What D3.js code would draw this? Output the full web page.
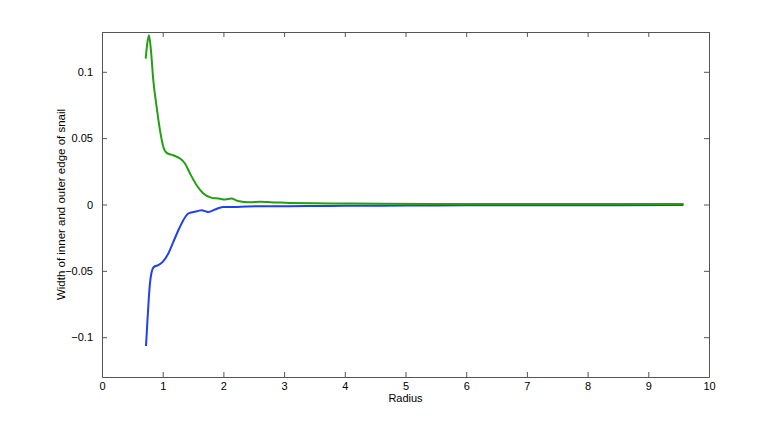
<!DOCTYPE html>
<html>
<head>
<meta charset="utf-8">
<script src="https://cdn.jsdelivr.net/npm/d3@7"></script>
<style>
    body { margin: 0; background: #fff; }
    text { font-family: "Liberation Sans", Arial, sans-serif; font-size: 11px; fill: #000; }
</style>
</head>
<body>
<script>
// outer edge (green)
var outerR = [0.72, 0.745, 0.774, 0.806, 0.845, 0.90, 0.955, 1.01, 1.065, 1.17, 1.285, 1.367, 1.45, 1.56, 1.67, 1.81, 1.92, 2.03, 2.13, 2.24, 2.43, 2.60, 2.88, 3.1, 3.5, 4.0, 4.6, 5.5, 6.5, 7.5, 8.5, 9.58];
var outerW = [0.110, 0.121, 0.1276, 0.1163, 0.0937, 0.0736, 0.056, 0.0434, 0.0389, 0.0371, 0.0347, 0.0309, 0.0234, 0.0145, 0.0083, 0.005, 0.0045, 0.0038, 0.0045, 0.0027, 0.0017, 0.002, 0.0015, 0.0012, 0.0009, 0.0007, 0.0005, 0.0004, 0.0004, 0.0003, 0.0003, 0.0003];

// inner edge (blue)
var innerR = [0.725, 0.746, 0.769, 0.79, 0.818, 0.856, 0.928, 1.0, 1.093, 1.175, 1.258, 1.34, 1.422, 1.505, 1.587, 1.64, 1.75, 1.86, 1.99, 2.22, 2.55, 3.0, 3.5, 4.0, 4.6, 5.5, 6.5, 7.5, 8.5, 9.58];
var innerW = [-0.1066, -0.0897, -0.0721, -0.0595, -0.0508, -0.047, -0.0457, -0.0432, -0.0369, -0.0282, -0.0194, -0.0118, -0.0068, -0.0056, -0.0048, -0.0043, -0.0056, -0.0038, -0.0018, -0.0018, -0.0013, -0.0013, -0.0011, -0.001, -0.0009, -0.0007, -0.0006, -0.0005, -0.0005, -0.0004];

var xTicks = [0, 1, 2, 3, 4, 5, 6, 7, 8, 9, 10];
var yTicks = [-0.1, -0.05, 0, 0.05, 0.1];

var margin = { top: 32, right: 75, bottom: 48, left: 102 },
    width = 784 - margin.left - margin.right,
    height = 425 - margin.top - margin.bottom;

var x = d3.scaleLinear().domain([0, 10]).range([0, width]);
var y = d3.scaleLinear().domain([-0.13, 0.13]).range([height, 0]);

var svg = d3.select("body").append("svg")
    .attr("width", 784)
    .attr("height", 425)
    .append("g")
    .attr("transform", "translate(" + margin.left + "," + margin.top + ")");

var fmt = function (d) { return d < 0 ? "\u2212" + Math.abs(d) : "" + d; };

// axes, ticks pointing inward like matlab
var xAxis = d3.axisBottom(x).tickValues(xTicks).tickSizeInner(-5).tickSizeOuter(0).tickPadding(5).tickFormat(fmt);
var xTop = d3.axisTop(x).tickValues(xTicks).tickSizeInner(-5).tickSizeOuter(0).tickFormat("");
var yAxis = d3.axisLeft(y).tickValues(yTicks).tickSizeInner(-5).tickSizeOuter(0).tickPadding(9).tickFormat(fmt);
var yRight = d3.axisRight(y).tickValues(yTicks).tickSizeInner(-5).tickSizeOuter(0).tickFormat("");

svg.append("g").attr("transform", "translate(0," + height + ")").call(xAxis);
svg.append("g").call(xTop);
svg.append("g").call(yAxis);
svg.append("g").attr("transform", "translate(" + width + ",0)").call(yRight);

svg.selectAll(".domain").attr("stroke", "#555");
svg.selectAll(".tick line").attr("stroke", "#555");
svg.selectAll(".tick text").style("font-size", "11px");

var line = d3.line()
    .x(function (d) { return x(d[0]); })
    .y(function (d) { return y(d[1]); })
    .curve(d3.curveMonotoneX);

svg.append("path")
    .datum(d3.zip(innerR, innerW))
    .attr("fill", "none")
    .attr("stroke", "#2040f0")
    .attr("stroke-width", 2)
    .attr("d", line);

svg.append("path")
    .datum(d3.zip(outerR, outerW))
    .attr("fill", "none")
    .attr("stroke", "#22a010")
    .attr("stroke-width", 2)
    .attr("d", line);

svg.append("text")
    .attr("x", width / 2)
    .attr("y", height + 25)
    .style("text-anchor", "middle")
    .text("Radius");

svg.append("text")
    .attr("transform", "rotate(-90)")
    .attr("x", -height / 2)
    .attr("y", -37)
    .style("text-anchor", "middle")
    .style("font-size", "11.5px")
    .text("Width of inner and outer edge of snail");
</script>
</body>
</html>
